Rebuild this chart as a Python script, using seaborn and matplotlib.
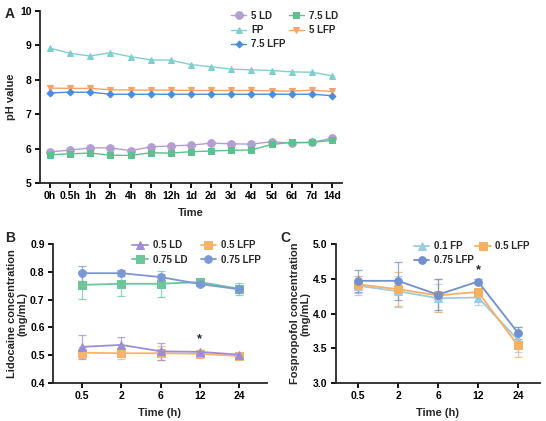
import numpy as np
import pandas as pd
import matplotlib
matplotlib.use("Agg")
import matplotlib.pyplot as plt
import seaborn as sns

# ---------------- data ----------------
time_a = ["0h", "0.5h", "1h", "2h", "4h", "8h", "12h", "1d", "2d", "3d", "4d", "5d", "6d", "7d", "14d"]
ph_5ld = [5.90, 5.96, 6.02, 6.02, 5.94, 6.05, 6.08, 6.10, 6.16, 6.14, 6.13, 6.20, 6.16, 6.18, 6.30]
ph_75ld = [5.82, 5.85, 5.87, 5.81, 5.80, 5.88, 5.87, 5.91, 5.93, 5.95, 5.96, 6.12, 6.18, 6.18, 6.24]
ph_fp = [8.92, 8.77, 8.69, 8.79, 8.67, 8.58, 8.57, 8.44, 8.38, 8.31, 8.29, 8.27, 8.23, 8.22, 8.12]
ph_5lfp = [7.76, 7.75, 7.75, 7.71, 7.70, 7.70, 7.70, 7.69, 7.69, 7.69, 7.69, 7.68, 7.67, 7.70, 7.66]
ph_75lfp = [7.62, 7.64, 7.64, 7.58, 7.58, 7.58, 7.58, 7.58, 7.58, 7.58, 7.58, 7.58, 7.58, 7.58, 7.54]

time_bc = ["0.5", "2", "6", "12", "24"]
lido_05ld = [0.530, 0.537, 0.514, 0.512, 0.502]
lido_05ld_sd = [0.042, 0.030, 0.030, 0.005, 0.005]
lido_05lfp = [0.509, 0.507, 0.507, 0.505, 0.497]
lido_05lfp_sd = [0.020, 0.020, 0.025, 0.005, 0.005]
lido_075ld = [0.753, 0.757, 0.757, 0.763, 0.739]
lido_075ld_sd = [0.050, 0.045, 0.046, 0.005, 0.022]
lido_075lfp = [0.795, 0.795, 0.781, 0.756, 0.737]
lido_075lfp_sd = [0.027, 0.010, 0.010, 0.005, 0.010]

fos_01fp = [4.40, 4.32, 4.22, 4.23, 3.62]
fos_01fp_sd = [0.14, 0.22, 0.20, 0.11, 0.18]
fos_05lfp = [4.42, 4.35, 4.26, 4.31, 3.54]
fos_05lfp_sd = [0.12, 0.24, 0.24, 0.05, 0.17]
fos_075lfp = [4.47, 4.47, 4.27, 4.46, 3.72]
fos_075lfp_sd = [0.16, 0.27, 0.22, 0.04, 0.08]

# ---------------- style ----------------
sns.set_theme(style="ticks")
plt.rcParams["font.family"] = ["Liberation Sans", "DejaVu Sans"]
plt.rcParams["font.weight"] = "bold"
plt.rcParams["axes.labelweight"] = "bold"
plt.rcParams["axes.linewidth"] = 1.3
plt.rcParams["xtick.major.width"] = 1.3
plt.rcParams["ytick.major.width"] = 1.3
plt.rcParams["xtick.major.size"] = 3.5
plt.rcParams["ytick.major.size"] = 3.5
plt.rcParams["xtick.labelsize"] = 7.5
plt.rcParams["ytick.labelsize"] = 7.5
plt.rcParams["axes.labelsize"] = 8

W, H = 546, 421
fig = plt.figure(figsize=(W / 100, H / 100), dpi=100)


def rect(l, r, t, b):
    return [l / W, 1 - b / H, (r - l) / W, (b - t) / H]


axA = fig.add_axes(rect(40, 342, 11, 183))
axB = fig.add_axes(rect(53, 267, 244, 383))
axC = fig.add_axes(rect(336, 540, 244, 383))


def draw(ax, x, y, color, marker, label, ms=5, lw=1.0, sd=None):
    df = pd.DataFrame({"x": x, "y": y})
    if sd is not None:
        ax.errorbar(x, y, yerr=sd, fmt="none", ecolor=color, elinewidth=0.9,
                    capsize=3, capthick=0.9, alpha=0.75, zorder=2)
    sns.lineplot(data=df, x="x", y="y", ax=ax, color=color, marker=marker,
                 markersize=ms, markeredgecolor=color, linewidth=lw,
                 label=label, zorder=3)


leg_kw = dict(ncol=2, frameon=False, fontsize=7, loc="upper right",
              handlelength=1.6, labelspacing=0.45,
              handletextpad=0.5, borderaxespad=0.0)

# ---------------- Panel A ----------------
xa = np.arange(len(time_a))
cA = {"5 LD": "#B39DD3", "7.5 LD": "#5FBF8F", "FP": "#7FD0CC",
      "5 LFP": "#F4A46A", "7.5 LFP": "#4A8EDB"}
draw(axA, xa, ph_5ld, cA["5 LD"], "o", "5 LD", ms=5.5)
draw(axA, xa, ph_75ld, cA["7.5 LD"], "s", "7.5 LD", ms=5)
draw(axA, xa, ph_fp, cA["FP"], "^", "FP", ms=5)
draw(axA, xa, ph_5lfp, cA["5 LFP"], "v", "5 LFP", ms=5)
draw(axA, xa, ph_75lfp, cA["7.5 LFP"], "D", "7.5 LFP", ms=3.5)
axA.set_xlim(-0.5, 14.5)
axA.set_ylim(5, 10)
axA.set_yticks([5, 6, 7, 8, 9, 10])
axA.set_xticks(xa)
axA.set_xticklabels(time_a)
axA.set_xlabel("Time", labelpad=5)
axA.set_ylabel("pH value", labelpad=3)
h, l = axA.get_legend_handles_labels()
order = [l.index(k) for k in ["5 LD", "FP", "7.5 LFP", "7.5 LD", "5 LFP"]]
axA.legend([h[i] for i in order], [l[i] for i in order],
           bbox_to_anchor=(1.0, 1.025), columnspacing=0.3, **leg_kw)

# ---------------- Panel B ----------------
xb = np.arange(len(time_bc))
cB = {"0.5 LD": "#9B8ED8", "0.5 LFP": "#F6B467", "0.75 LD": "#6CC69A", "0.75 LFP": "#7C97D6"}
draw(axB, xb, lido_075ld, cB["0.75 LD"], "s", "0.75 LD", ms=5.5, lw=1.3, sd=lido_075ld_sd)
draw(axB, xb, lido_075lfp, cB["0.75 LFP"], "o", "0.75 LFP", ms=5.5, lw=1.3, sd=lido_075lfp_sd)
draw(axB, xb, lido_05lfp, cB["0.5 LFP"], "s", "0.5 LFP", ms=5.5, lw=1.3, sd=lido_05lfp_sd)
draw(axB, xb, lido_05ld, cB["0.5 LD"], "^", "0.5 LD", ms=5.5, lw=1.3, sd=lido_05ld_sd)
axB.set_xlim(-0.74, 4.71)
axB.set_ylim(0.4, 0.9)
axB.set_yticks([0.4, 0.5, 0.6, 0.7, 0.8, 0.9])
axB.set_xticks(xb)
axB.set_xticklabels(time_bc)
axB.set_xlabel("Time (h)", labelpad=5)
axB.set_ylabel("Lidocaine concentration\n(mg/mL)", labelpad=2, linespacing=1.0)
axB.text(3, 0.535, "*", ha="center", va="bottom", fontsize=9, fontweight="bold")
h, l = axB.get_legend_handles_labels()
order = [l.index(k) for k in ["0.5 LD", "0.75 LD", "0.5 LFP", "0.75 LFP"]]
axB.legend([h[i] for i in order], [l[i] for i in order],
           bbox_to_anchor=(0.99, 1.055), columnspacing=1.4, **leg_kw)

# ---------------- Panel C ----------------
cC = {"0.1 FP": "#9ECBE2", "0.5 LFP": "#F5B063", "0.75 LFP": "#7190CD"}
draw(axC, xb, fos_01fp, cC["0.1 FP"], "^", "0.1 FP", ms=5.5, lw=1.3, sd=fos_01fp_sd)
draw(axC, xb, fos_05lfp, cC["0.5 LFP"], "s", "0.5 LFP", ms=5.5, lw=1.3, sd=fos_05lfp_sd)
draw(axC, xb, fos_075lfp, cC["0.75 LFP"], "o", "0.75 LFP", ms=5.5, lw=1.3, sd=fos_075lfp_sd)
axC.set_xlim(-0.55, 4.55)
axC.set_ylim(3.0, 5.0)
axC.set_yticks([3.0, 3.5, 4.0, 4.5, 5.0])
axC.set_xticks(xb)
axC.set_xticklabels(time_bc)
axC.set_xlabel("Time (h)", labelpad=5)
axC.set_ylabel("Fospropofol concentration\n(mg/mL)", labelpad=2, linespacing=1.0)
axC.text(3, 4.53, "*", ha="center", va="bottom", fontsize=9, fontweight="bold")
h, l = axC.get_legend_handles_labels()
order = [l.index(k) for k in ["0.1 FP", "0.75 LFP", "0.5 LFP"]]
axC.legend([h[i] for i in order], [l[i] for i in order],
           bbox_to_anchor=(0.97, 1.05), columnspacing=0.1, **leg_kw)

for ax in (axA, axB, axC):
    sns.despine(ax=ax)
    for t in ax.get_xticklabels() + ax.get_yticklabels():
        t.set_fontweight("bold")
    ax.tick_params(axis="both", pad=2.5, colors="black")
axA.yaxis.set_major_formatter(matplotlib.ticker.FormatStrFormatter("%d"))
axB.yaxis.set_major_formatter(matplotlib.ticker.FormatStrFormatter("%.1f"))
axC.yaxis.set_major_formatter(matplotlib.ticker.FormatStrFormatter("%.1f"))

fig.text(5 / W, 1 - 14 / H, "A", fontsize=10, fontweight="bold", va="center", ha="left")
fig.text(5 / W, 1 - 238 / H, "B", fontsize=10, fontweight="bold", va="center", ha="left")
fig.text(280 / W, 1 - 238 / H, "C", fontsize=10, fontweight="bold", va="center", ha="left")

fig.savefig("out.png", dpi=100)
